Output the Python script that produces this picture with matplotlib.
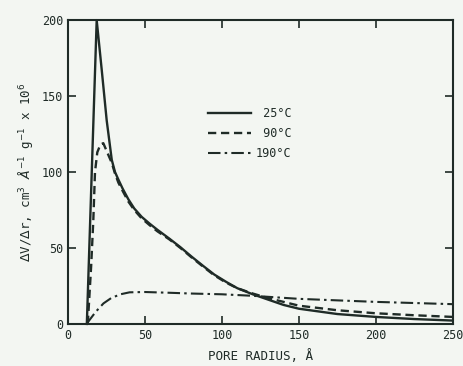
import matplotlib
matplotlib.use("Agg")
import matplotlib.pyplot as plt

plt.rcParams["font.family"] = ["DejaVu Sans Mono"]
plt.rcParams["mathtext.fontset"] = "dejavusans"

# pore radius (Å) and dV/dr values
r_25 = [12.2, 18.6, 21.9, 25.1, 28.4, 30.5, 32.7, 35.5, 39.2, 43, 47.8, 53,
        58, 66, 73, 80, 88, 95, 103, 110, 120, 130, 140, 150, 175, 200, 225,
        250]
v_25 = [0, 200, 167, 134, 108, 100, 95, 89, 82, 76, 70.5, 66, 62, 56, 50.5,
        44.5, 38, 32.5, 27.5, 23.5, 19.5, 16, 12.5, 10, 6.5, 4.6, 3.2, 2.2]

r_90 = [12.8, 15, 16.4, 17.5, 19, 21, 22.9, 25, 28.4, 30.5, 32.7, 35.5,
        39.2, 43, 47.8, 53, 58, 66, 73, 80, 88, 95, 103, 110, 120, 130, 140,
        150, 175, 200, 225, 250]
v_90 = [0, 38, 68, 100, 113, 118, 119, 114, 106, 99, 93, 87.5, 80.5, 75,
        69.5, 65, 61, 55.5, 50, 44, 37.5, 32, 27, 23.5, 20, 17, 14.5, 12, 9,
        7, 5.7, 4.6]

r_190 = [12, 15, 18, 23, 28, 34, 40, 50, 66, 80, 100, 120, 150, 200, 250]
v_190 = [0, 4, 8, 13.5, 17, 19.5, 20.8, 21, 20.5, 20, 19.5, 18.5, 16.5,
         14.5, 13]

labels = [" 25°C", " 90°C", "190°C"]

ink = "#1f2b27"
bg = "#f3f6f2"

fig = plt.figure(figsize=(4.63, 3.66), dpi=100)
fig.patch.set_facecolor(bg)
ax = fig.add_axes([0.147, 0.115, 0.831, 0.83])
ax.set_facecolor(bg)

ax.plot(r_25, v_25, color=ink, lw=1.7, label=labels[0], clip_on=False)
ax.plot(r_90, v_90, color=ink, lw=1.7, ls=(0, (3.5, 2)), label=labels[1])
ax.plot(r_190, v_190, color=ink, lw=1.5, ls=(0, (6, 2, 1.2, 2)),
        label=labels[2])

ax.set_xlim(0, 250)
ax.set_ylim(0, 200)
ax.set_xticks([0, 50, 100, 150, 200, 250])
ax.set_yticks([0, 50, 100, 150, 200])
ax.tick_params(direction="in", length=6, width=1.2, color=ink,
               labelcolor=ink, labelsize=8.5, top=True, right=True)
for s in ax.spines.values():
    s.set_color(ink)
    s.set_linewidth(1.5)

ax.set_xlabel("PORE RADIUS, Å", fontsize=9, color=ink, labelpad=5)
ax.set_ylabel(r"$\Delta$V/$\Delta$r, cm$^3$ $\AA^{-1}$ g$^{-1}$ x 10$^6$",
              fontsize=9, color=ink, labelpad=5)

leg = ax.legend(loc="upper left", bbox_to_anchor=(0.335, 0.75),
                frameon=False, fontsize=8.5, handlelength=3.7,
                handletextpad=0.4, labelspacing=0.6, labelcolor=ink)

fig.savefig("out.png", dpi=100, facecolor=bg)
